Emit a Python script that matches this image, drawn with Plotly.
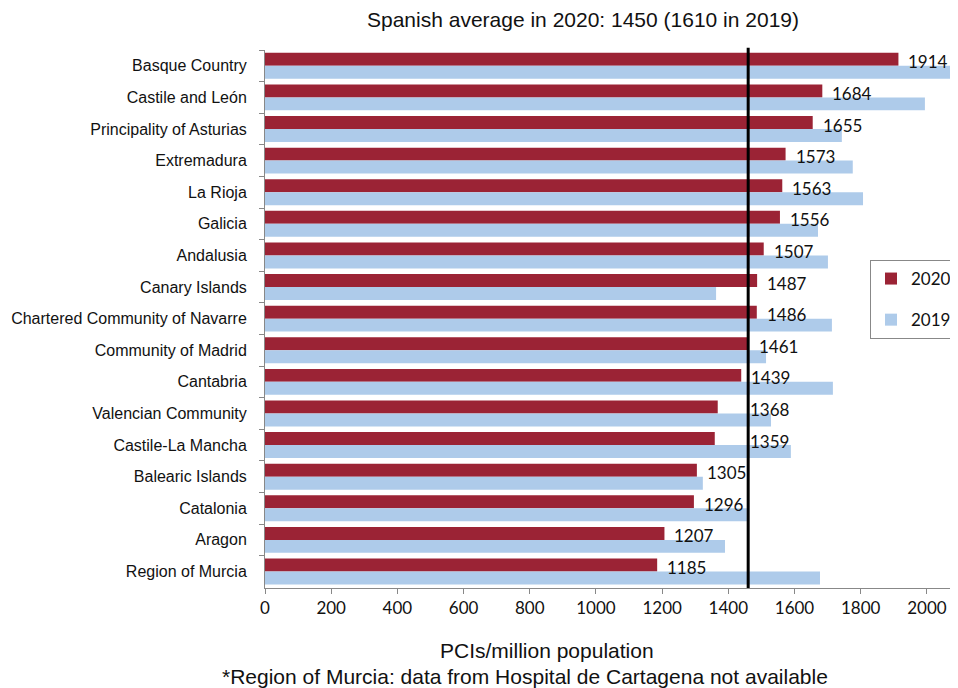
import plotly.graph_objects as go

regions = ["Basque Country", "Castile and León", "Principality of Asturias", "Extremadura",
           "La Rioja", "Galicia", "Andalusia", "Canary Islands",
           "Chartered Community of Navarre", "Community of Madrid", "Cantabria",
           "Valencian Community", "Castile-La Mancha", "Balearic Islands", "Catalonia",
           "Aragon", "Region of Murcia"]
v2020 = [1914, 1684, 1655, 1573, 1563, 1556, 1507, 1487, 1486, 1461, 1439, 1368, 1359,
         1305, 1296, 1207, 1185]
v2019 = [2076, 1994, 1743, 1776, 1807, 1671, 1701, 1363, 1713, 1514, 1716, 1529, 1589,
         1323, 1456, 1390, 1677]
avg_line = 1460
x_ticks = [0, 200, 400, 600, 800, 1000, 1200, 1400, 1600, 1800, 2000]

RED = "#9B2335"
BLUE = "#AECBEA"
ARIAL = "Liberation Sans, Arial, sans-serif"
CAL = "Lato, Carlito, sans-serif"

# the page body has an 8px margin; figure is sized/positioned to compensate
OFF = 8
W, H = 958 - OFF, 688 - OFF
L, T, B = 265 - OFF, 50 - OFF, 100
PB = 588  # plot bottom (page px)
PH = 538  # plot height
PW = 693  # plot width
XMAX = 2094
PX_PER_UNIT = PW / XMAX

fig = go.Figure()
fig.add_trace(go.Bar(y=regions, x=v2020, orientation="h", name="2020",
                     marker=dict(color=RED, line=dict(width=0)), legendgroup="a"))
fig.add_trace(go.Bar(y=regions, x=v2019, orientation="h", name="2019",
                     marker=dict(color=BLUE, line=dict(width=0)), legendgroup="b"))

# value labels; labels that would be crossed by the average line are nudged right of it
gap_u = 11 / PX_PER_UNIT
wid_u = 35 / PX_PER_UNIT
for r, v in zip(regions, v2020):
    start = v + gap_u
    if start < avg_line < start + wid_u:
        ax, sh = avg_line, 0
    else:
        ax, sh = v, 8
    fig.add_annotation(x=ax, y=r, text=str(v), showarrow=False, xanchor="left",
                       xshift=sh, yshift=4, font=dict(family=CAL, size=17, color="#111"))

fig.add_shape(type="line", xref="x", yref="paper", x0=avg_line, x1=avg_line, y0=0,
              y1=1.004, line=dict(color="black", width=3), layer="above")

fig.add_annotation(xref="paper", yref="paper", x=(547 - 265) / PW, y=-(650 - PB) / PH,
                   text="PCIs/million population", showarrow=False, yanchor="middle",
                   font=dict(family=ARIAL, size=21, color="#111"))
fig.add_annotation(xref="paper", yref="paper", x=(525 - 265) / PW, y=-(676 - PB) / PH,
                   text="*Region of Murcia: data from Hospital de Cartagena not available",
                   showarrow=False, yanchor="middle",
                   font=dict(family=ARIAL, size=21, color="#111"))

fig.update_layout(
    width=W, height=H,
    margin=dict(l=L, r=0, t=T, b=B, autoexpand=False),
    paper_bgcolor="white", plot_bgcolor="white",
    barmode="group", bargap=0.18, bargroupgap=0,
    title=dict(text="Spanish average in 2020: 1450 (1610 in 2019)", x=(583 - OFF) / W,
               xanchor="center", xref="container", y=1 - (20 - OFF) / H, yanchor="middle",
               font=dict(family=ARIAL, size=21, color="#111")),
    xaxis=dict(range=[0, XMAX], tickvals=x_ticks, showgrid=False, zeroline=False,
               showline=True, linecolor="#888", linewidth=1, ticks="outside",
               ticklen=5, tickcolor="#888",
               tickfont=dict(family=CAL, size=17, color="#111")),
    yaxis=dict(autorange="reversed", showgrid=False, showline=True, linecolor="#888",
               linewidth=1, ticks="outside", ticklen=5, tickcolor="#888",
               tickson="boundaries", ticklabelstandoff=14,
               tickfont=dict(family=ARIAL, size=16, color="#111")),
    legend=dict(x=(870 - 265) / PW, y=(PB - 260) / PH, xanchor="left", yanchor="top",
                bordercolor="#888", borderwidth=1, bgcolor="white",
                tracegroupgap=16, itemwidth=30,
                font=dict(family=CAL, size=17, color="#111")),
    showlegend=True,
)

fig.write_html("out.html")
